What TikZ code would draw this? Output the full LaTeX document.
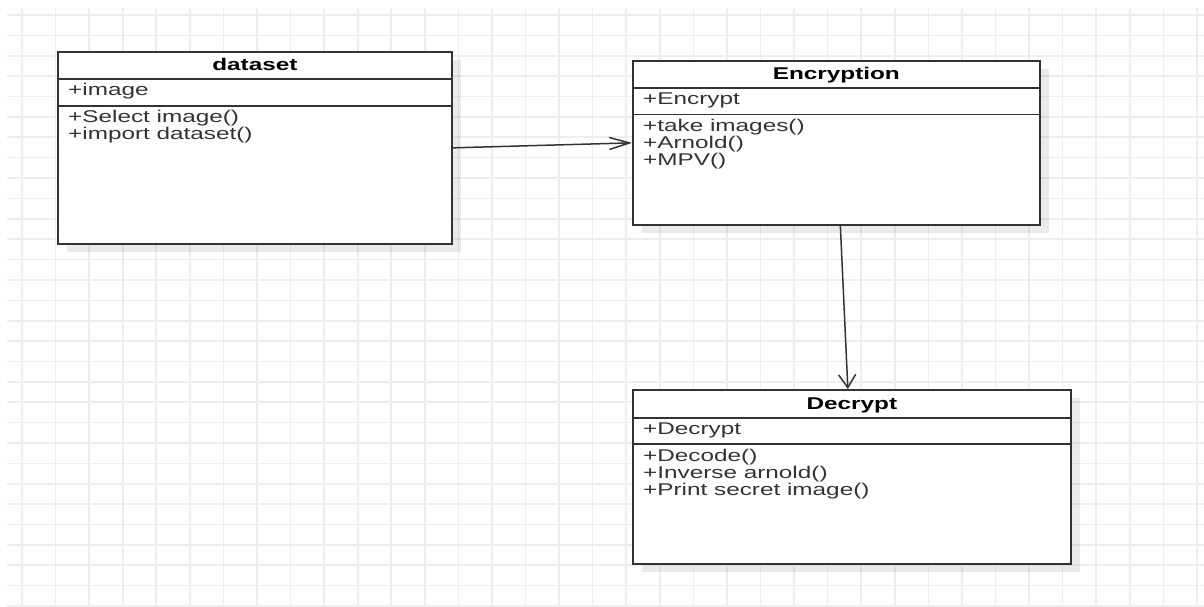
\documentclass[tikz,border=0pt]{standalone}
\usepackage{fontspec}
\setmainfont[FakeStretch=1.43]{Liberation Sans}
\usetikzlibrary{arrows.meta,positioning,shadows}

\definecolor{gridgray}{HTML}{EEEEEE}
\definecolor{linegray}{HTML}{333333}

\begin{document}
\begin{tikzpicture}[x=1pt,y=-1pt,
  gridline/.style={draw=gridgray,line width=1.6pt},
  classbox/.style={draw=linegray,line width=1.7pt,fill=white,anchor=north west,
    inner sep=0pt,drop shadow={shadow xshift=9pt,shadow yshift=-8pt,fill=black,opacity=0.08}},
  classtitle/.style={font=\fontsize{17}{20}\selectfont\bfseries,anchor=base,inner sep=0pt},
  member/.style={font=\fontsize{17}{20}\selectfont,text=linegray,anchor=base west,inner sep=0pt},
  divider/.style={draw=linegray,line width=1.7pt},
  link/.style={draw=linegray,line width=1.5pt}]

\useasboundingbox (0,0) rectangle (1204,607);

% background grid
\foreach \i in {0,...,35}
  \draw[gridline] ({22+33.57*\i},8) -- ({22+33.57*\i},607);
\foreach \j in {0,...,29}
  \draw[gridline] (7,{15+20.38*\j}) -- (1204,{15+20.38*\j});

% dataset
\node[classbox,minimum width=394pt,minimum height=192pt] (dataset) at (57,51) {};
\draw[divider] ([yshift=-28pt]dataset.north west) -- ([yshift=-28pt]dataset.north east);
\draw[divider] ([yshift=-55pt]dataset.north west) -- ([yshift=-55pt]dataset.north east);
\node[classtitle] (dataset-name) at ([yshift=-19.5pt]dataset.north) {dataset};
\node[member] (dataset-attr) at ([xshift=11pt,yshift=-45pt]dataset.north west) {+image};
\node[member] (dataset-op1) at ([xshift=11pt,yshift=-72pt]dataset.north west) {+Select image()};
\node[member] (dataset-op2) at ([xshift=11pt,yshift=-88.5pt]dataset.north west) {+import dataset()};

% Encryption
\node[classbox,minimum width=407pt,minimum height=164pt] (encryption) at (632,60) {};
\draw[divider] ([yshift=-28pt]encryption.north west) -- ([yshift=-28pt]encryption.north east);
\draw[divider] ([yshift=-54.5pt]encryption.north west) -- ([yshift=-54.5pt]encryption.north east);
\node[classtitle] (encryption-name) at ([yshift=-19.5pt]encryption.north) {Encryption};
\node[member] (encryption-attr) at ([xshift=11pt,yshift=-45pt]encryption.north west) {+Encrypt};
\node[member] (encryption-op1) at ([xshift=11pt,yshift=-71.5pt]encryption.north west) {+take images()};
\node[member] (encryption-op2) at ([xshift=11pt,yshift=-88pt]encryption.north west) {+Arnold()};
\node[member] (encryption-op3) at ([xshift=11pt,yshift=-105pt]encryption.north west) {+MPV()};

% Decrypt
\node[classbox,minimum width=438pt,minimum height=174pt] (decrypt) at (632,389) {};
\draw[divider] ([yshift=-29pt]decrypt.north west) -- ([yshift=-29pt]decrypt.north east);
\draw[divider] ([yshift=-55pt]decrypt.north west) -- ([yshift=-55pt]decrypt.north east);
\node[classtitle] (decrypt-name) at ([yshift=-20pt]decrypt.north) {Decrypt};
\node[member] (decrypt-attr) at ([xshift=11pt,yshift=-45pt]decrypt.north west) {+Decrypt};
\node[member] (decrypt-op1) at ([xshift=11pt,yshift=-72pt]decrypt.north west) {+Decode()};
\node[member] (decrypt-op2) at ([xshift=11pt,yshift=-89pt]decrypt.north west) {+Inverse arnold()};
\node[member] (decrypt-op3) at ([xshift=11pt,yshift=-106pt]decrypt.north west) {+Print secret image()};

% associations
\draw[link,-{Straight Barb[length=20pt,width=12pt]}] (dataset.east) -- (encryption.west);
\draw[link,-{Straight Barb[length=13pt,width=17pt]}]
  ([xshift=4pt]encryption.south) -- ([xshift=-4pt]decrypt.north);

\end{tikzpicture}
\end{document}
